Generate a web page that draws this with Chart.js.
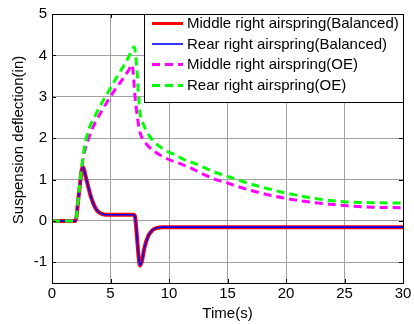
<!DOCTYPE html>
<html><head><meta charset="utf-8">
<script src="https://cdn.jsdelivr.net/npm/chart.js@4/dist/chart.umd.min.js"></script>
<style>html,body{margin:0;padding:0;background:#fff}#wrap{width:414px;height:324px}</style>
</head><body><div id="wrap"><canvas id="c" width="414" height="324"></canvas></div>
<script>
const seriesLabels = ["Middle right airspring(Balanced)","Rear right airspring(Balanced)","Middle right airspring(OE)","Rear right airspring(OE)"];
const xTitle = "Time(s)";
const yTitle = "Suspension deflection(in)";
const xTicks = [0,5,10,15,20,25,30];
const yTicks = [-1,0,1,2,3,4,5];

const balT = [0,2,2.3,2.62,2.9,3.13,3.4,3.7,4.0,4.27,4.6,5,6,7,7.1,7.25,7.4,7.52,7.7,7.9,8.23,8.6,8.95,9.5,10,15,20,25,30];
const midBal = [0,0,0.65,1.31,1.05,0.79,0.52,0.32,0.21,0.17,0.15,0.15,0.15,0.15,0.1,-0.35,-0.85,-1.08,-0.95,-0.65,-0.36,-0.22,-0.17,-0.15,-0.15,-0.15,-0.15,-0.15,-0.15];
const rearBal = [0,0,0.65,1.31,1.05,0.79,0.52,0.32,0.21,0.17,0.15,0.15,0.15,0.15,0.1,-0.35,-0.85,-1.08,-0.95,-0.65,-0.36,-0.22,-0.17,-0.15,-0.15,-0.15,-0.15,-0.15,-0.15];

const midOeT = [0,2,2.3,2.6,2.85,3.2,3.7,4.3,4.85,5.4,6.0,6.5,6.85,7.09,7.32,7.52,7.95,8.8,9.94,11.0,11.94,13,14,15.07,16,17.5,19,20.06,22.5,25.04,27.5,30];
const midOe = [0,0,0.7,1.4,1.75,2.05,2.38,2.68,2.94,3.18,3.41,3.62,3.77,3.02,2.46,2.14,1.9,1.67,1.49,1.38,1.27,1.12,1.0,0.91,0.82,0.7,0.6,0.54,0.44,0.37,0.33,0.32];

const rearOeT = [0,2,2.3,2.56,2.85,3.2,3.7,4.3,4.85,5.4,6.0,6.5,7.03,7.24,7.38,7.52,7.8,8.52,9.66,10.5,11.37,12.2,13.08,14,15.07,16,17.5,19,20.06,22.5,25.04,27.5,30];
const rearOe = [0,0,0.7,1.36,1.9,2.25,2.55,2.87,3.14,3.41,3.69,3.93,4.2,3.73,3.1,2.62,2.34,1.98,1.71,1.6,1.47,1.39,1.28,1.17,1.07,0.98,0.85,0.74,0.67,0.54,0.46,0.44,0.43];

const pts = (t, v) => t.map((x, i) => ({x: x, y: v[i]}));
const FONT = 'Arial, "Liberation Sans", sans-serif';

const frameLegend = {
  id: 'frameLegend',
  afterDatasetsDraw(chart) {
    const ctx = chart.ctx, a = chart.chartArea;
    const xs = chart.scales.x, ys = chart.scales.y;
    ctx.save();
    ctx.strokeStyle = '#000'; ctx.lineWidth = 1;
    ctx.beginPath();
    const L = 4;
    xTicks.forEach(v => {
      const p = Math.round(xs.getPixelForValue(v)) + 0.5;
      ctx.moveTo(p, a.bottom); ctx.lineTo(p, a.bottom - L);
      ctx.moveTo(p, a.top); ctx.lineTo(p, a.top + L);
    });
    yTicks.forEach(v => {
      const p = Math.round(ys.getPixelForValue(v)) + 0.5;
      ctx.moveTo(a.left, p); ctx.lineTo(a.left + L, p);
      ctx.moveTo(a.right, p); ctx.lineTo(a.right - L, p);
    });
    ctx.stroke();
    ctx.strokeRect(Math.round(a.left) + 0.5, Math.round(a.top) + 0.5, Math.round(a.right - a.left), Math.round(a.bottom - a.top));
    // y title
    ctx.fillStyle = '#000';
    ctx.font = '15px ' + FONT;
    ctx.textAlign = 'center';
    ctx.textBaseline = 'middle';
    ctx.save();
    ctx.translate(19, 140);
    ctx.rotate(-Math.PI / 2);
    ctx.fillText(yTitle, 0, 0);
    ctx.restore();
    // legend
    const bx = 144.5, by = Math.round(a.top) + 0.5, bw = Math.round(a.right) - 144, bh = 88;
    ctx.fillStyle = '#fff';
    ctx.fillRect(bx, by, bw, bh);
    ctx.strokeRect(bx, by, bw, bh);
    ctx.textAlign = 'left';
    const rows = [23.5, 44, 64.5, 85.5];
    chart.data.datasets.forEach((ds, i) => {
      const y = rows[i];
      ctx.beginPath();
      ctx.strokeStyle = ds.borderColor;
      ctx.lineWidth = i === 0 ? 3 : (i === 1 ? 1.6 : 3);
      ctx.setLineDash(ds.borderDash || []);
      ctx.moveTo(152, y); ctx.lineTo(183, y);
      ctx.stroke();
      ctx.setLineDash([]);
      ctx.fillStyle = '#000';
      ctx.fillText(seriesLabels[i], 187, y + 0.5);
    });
    ctx.restore();
  }
};

new Chart(document.getElementById('c'), {
  type: 'line',
  data: {
    datasets: [
      {label: seriesLabels[0], data: pts(balT, midBal), borderColor: '#ff0000', borderWidth: 4, order: 4},
      {label: seriesLabels[1], data: pts(balT, rearBal), borderColor: '#0000ff', borderWidth: 1.6, order: 3},
      {label: seriesLabels[2], data: pts(midOeT, midOe), borderColor: '#ff00ff', borderWidth: 3, borderDash: [8, 5], order: 2},
      {label: seriesLabels[3], data: pts(rearOeT, rearOe), borderColor: '#00ff00', borderWidth: 3, borderDash: [8, 5], order: 1}
    ]
  },
  options: {
    responsive: false,
    animation: false,
    events: [],
    layout: {padding: {top: 10, right: 11, left: 0, bottom: 0}},
    elements: {point: {radius: 0}, line: {cubicInterpolationMode: 'monotone', fill: false}},
    plugins: {legend: {display: false}, tooltip: {enabled: false}},
    scales: {
      x: {
        type: 'linear', min: 0, max: 30,
        afterBuildTicks: s => { s.ticks = xTicks.map(v => ({value: v})); },
        afterFit: s => { s.height = 41; },
        grid: {color: '#a0a0a0', drawTicks: false},
        border: {display: false},
        ticks: {color: '#000', padding: 2, font: {family: FONT, size: 15}},
        title: {display: true, text: xTitle, color: '#000', font: {family: FONT, size: 15}, padding: {top: 0, bottom: 1}}
      },
      y: {
        type: 'linear', min: -1.5, max: 5,
        afterBuildTicks: s => { s.ticks = yTicks.map(v => ({value: v})); },
        afterFit: s => { s.width = 52; },
        grid: {color: '#a0a0a0', drawTicks: false},
        border: {display: false},
        ticks: {color: '#000', padding: 5, font: {family: FONT, size: 15}},
        title: {display: false}
      }
    }
  },
  plugins: [frameLegend]
});
</script></body></html>
